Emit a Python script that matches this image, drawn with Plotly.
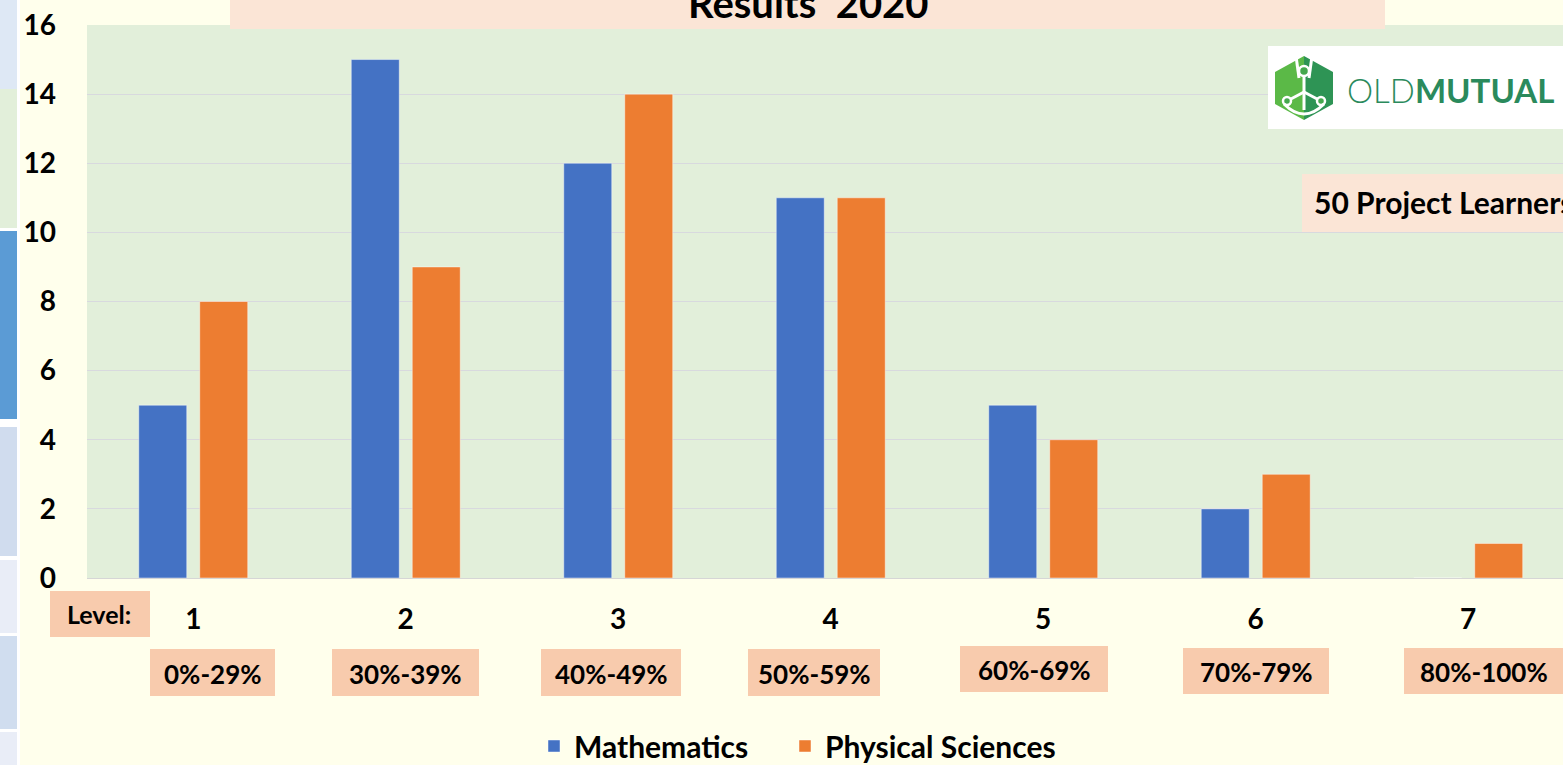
import plotly.graph_objects as go

# ---------------- data ----------------
levels = ["1", "2", "3", "4", "5", "6", "7"]
ranges = ["0%-29%", "30%-39%", "40%-49%", "50%-59%", "60%-69%", "70%-79%", "80%-100%"]
mathematics = [5, 15, 12, 11, 5, 2, 0]
physical_sciences = [8, 9, 14, 11, 4, 3, 1]
y_ticks = [0, 2, 4, 6, 8, 10, 12, 14, 16]

W, H = 1563, 765
FONT = "Lato"
BLUE = "#4472C4"
ORANGE = "#ED7D31"
PEACH = "#F8CBAD"
LIGHT_PEACH = "#FBE5D6"


def px(x):
    return x / W


def py(y):
    return 1 - y / H


fig = go.Figure()
fig.add_trace(go.Bar(name="Mathematics", x=levels, y=mathematics, legend="legend", showlegend=True,
                     marker=dict(color=BLUE, line=dict(color="rgba(255,255,255,0.45)", width=1))))
fig.add_trace(go.Bar(name="Physical Sciences", x=levels, y=physical_sciences, legend="legend2",
                     showlegend=True,
                     marker=dict(color=ORANGE, line=dict(color="rgba(255,255,255,0.45)", width=1))))

shapes = []
annotations = []


def rect(x0, y0, x1, y1, color, layer="above"):
    shapes.append(dict(type="rect", xref="paper", yref="paper",
                       x0=px(x0), x1=px(x1), y0=py(y1), y1=py(y0),
                       fillcolor=color, line=dict(width=0), layer=layer))


# left slide strip
rect(0, 0, 20, H, "#FFFFFF", "below")
for (a, b, c) in [(0, 89, "#DEE8F5"), (89, 228, "#E2EFDA"), (231, 419, "#5B9BD5"),
                  (427, 556, "#D0DCEE"), (560, 633, "#E9EDF7"), (636, 729, "#D0DDEF"),
                  (732, 765, "#E9EDF7")]:
    rect(0, a, 17, b, c, "below")

# title box
rect(230, -2, 1385, 29, LIGHT_PEACH)
annotations.append(dict(text="<b>Results  2020</b>", xref="paper", yref="paper",
                        x=px(808), y=py(3), xanchor="center", yanchor="middle",
                        showarrow=False, font=dict(family=FONT, size=40, color="black")))

# logo
rect(1268, 46, W + 5, 129, "#FFFFFF")
cx, cy, hw, hh = 1304, 88, 29, 32
left_half = (f"M {px(cx)} {py(cy-hh)} L {px(cx-hw)} {py(cy-hh/2)} L {px(cx-hw)} {py(cy+hh/2)} "
             f"L {px(cx)} {py(cy+hh)} Z")
right_half = (f"M {px(cx)} {py(cy-hh)} L {px(cx+hw)} {py(cy-hh/2)} L {px(cx+hw)} {py(cy+hh/2)} "
              f"L {px(cx)} {py(cy+hh)} Z")
shapes.append(dict(type="path", xref="paper", yref="paper", path=left_half,
                   fillcolor="#5BB947", line=dict(width=0), layer="above"))
shapes.append(dict(type="path", xref="paper", yref="paper", path=right_half,
                   fillcolor="#2E9455", line=dict(width=0), layer="above"))
# anchor (white)
for (x0, y0, x1, y1) in [(cx, cy - 14, cx, cy + 22), (cx, cy + 4, cx - 15, cy + 12),
                         (cx, cy + 4, cx + 15, cy + 12), (cx - 8, cy - 32, cx - 5, cy - 10),
                         (cx + 8, cy - 32, cx + 5, cy - 10)]:
    shapes.append(dict(type="line", xref="paper", yref="paper", x0=px(x0), y0=py(y0),
                       x1=px(x1), y1=py(y1), line=dict(color="white", width=3), layer="above"))
for (ccx, ccy, r) in [(cx, cy - 17, 5), (cx - 17, cy + 13, 4), (cx + 17, cy + 13, 4)]:
    shapes.append(dict(type="circle", xref="paper", yref="paper", x0=px(ccx - r), x1=px(ccx + r),
                       y0=py(ccy + r), y1=py(ccy - r), fillcolor="#45A84E",
                       line=dict(color="white", width=2.5), layer="above"))
shapes.append(dict(type="path", xref="paper", yref="paper",
                   path=f"M {px(cx-20)} {py(cy+16)} Q {px(cx)} {py(cy+36)} {px(cx+20)} {py(cy+16)}",
                   line=dict(color="white", width=3), layer="above"))
annotations.append(dict(text="<span style='font-weight:300'>OLD</span><b>MUTUAL</b>",
                        xref="paper", yref="paper", x=px(1345), y=py(90),
                        xanchor="left", yanchor="middle", showarrow=False,
                        font=dict(family=FONT, size=33, color="#2A8A5C")))

# 50 Project Learners
rect(1302, 174, W + 5, 232, LIGHT_PEACH)
annotations.append(dict(text="<b>50 Project Learners</b>", xref="paper", yref="paper",
                        x=px(1312), y=py(202), xanchor="left", yanchor="middle",
                        showarrow=False, font=dict(family=FONT, size=30, color="black")))

# Level: box
rect(50, 591, 150, 637, PEACH)
annotations.append(dict(text="<b>Level:</b>", xref="paper", yref="paper",
                        x=px(99), y=py(614), xanchor="center", yanchor="middle",
                        showarrow=False, font=dict(family=FONT, size=25, color="black")))

# percentage range boxes
range_boxes = [(150, 275, 649, 696), (332, 479, 649, 696), (541, 681, 649, 696),
               (748, 880, 649, 696), (960, 1108, 646, 692), (1183, 1329, 648, 694),
               (1404, W + 5, 648, 694)]
for lbl, (x0, x1, y0, y1) in zip(ranges, range_boxes):
    rect(x0, y0, x1, y1, PEACH)
    annotations.append(dict(text=f"<b>{lbl}</b>", xref="paper", yref="paper",
                            x=px((x0 + min(x1, W)) / 2), y=py((y0 + y1) / 2 + 1),
                            xanchor="center", yanchor="middle", showarrow=False,
                            font=dict(family=FONT, size=26, color="black")))

legend_style = dict(orientation="h", xanchor="left", y=py(746), yanchor="middle",
                    font=dict(family=FONT, size=30, color="black", weight="bold"),
                    bgcolor="rgba(0,0,0,0)", itemwidth=30, visible=True)

fig.update_layout(
    width=W, height=H, autosize=False,
    showlegend=True,
    margin=dict(l=0, r=0, t=0, b=0, autoexpand=False),
    paper_bgcolor="#FFFFEC",
    plot_bgcolor="#E2EFDA",
    barmode="group", bargap=0.426, bargroupgap=0.213,
    font=dict(family=FONT, color="black"),
    xaxis=dict(domain=[px(87), 1], type="category", range=[-0.5, 6.446],
               showgrid=False, showline=False, zeroline=False, ticks="", automargin=False,
               tickfont=dict(family=FONT, size=28, color="black", weight="bold"),
               ticklabelstandoff=22),
    yaxis=dict(domain=[py(578), py(25)], range=[0, 16], tickvals=y_ticks, automargin=False,
               showgrid=True, gridcolor="#D8D9DE", gridwidth=1,
               zeroline=True, zerolinecolor="#D6D6D6", zerolinewidth=1,
               showline=False, ticks="",
               tickfont=dict(family=FONT, size=28, color="black", weight="bold"),
               ticklabelstandoff=30),
    legend=dict(x=px(534), **legend_style),
    legend2=dict(x=px(785), **legend_style),
    shapes=shapes,
    annotations=annotations,
)

fig.write_html("out.html", config={"displayModeBar": False},
               post_script="document.body.style.margin='0';document.body.style.overflow='hidden';")
